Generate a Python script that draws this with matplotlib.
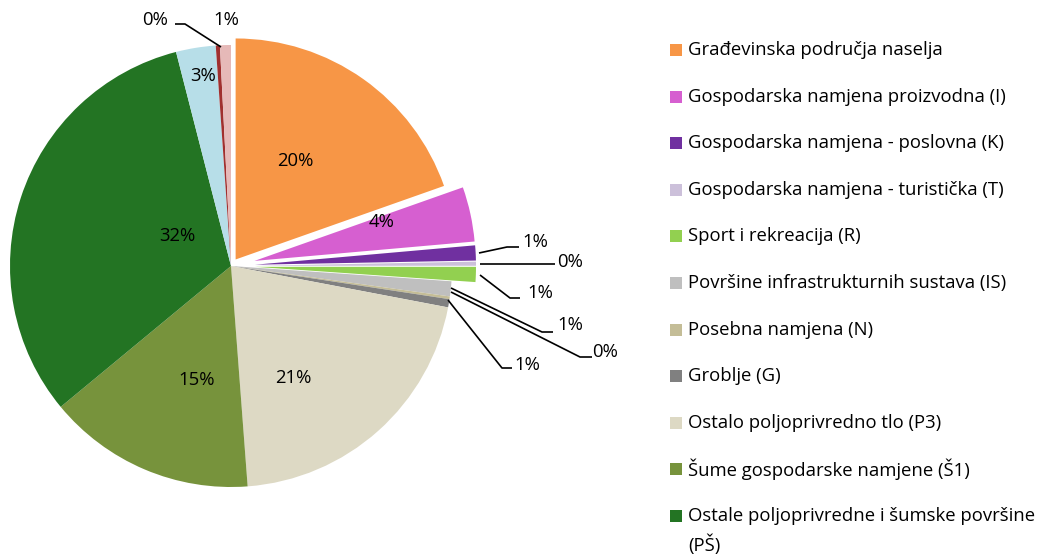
import matplotlib.pyplot as plt
from matplotlib.patches import Rectangle

plt.rcParams["font.family"] = ["Open Sans", "DejaVu Sans"]

categories = [
    "Građevinska područja naselja",
    "Gospodarska namjena proizvodna (I)",
    "Gospodarska namjena - poslovna (K)",
    "Gospodarska namjena - turistička (T)",
    "Sport i rekreacija (R)",
    "Površine infrastrukturnih sustava (IS)",
    "Posebna namjena (N)",
    "Groblje (G)",
    "Ostalo poljoprivredno tlo (P3)",
    "Šume gospodarske namjene (Š1)",
    "Ostale poljoprivredne i šumske površine\n(PŠ)",
    "Vode",
    "Ostalo",
    "Ostalo 2",
]
shares = [19.6, 4.0, 1.1, 0.3, 1.1, 1.1, 0.2, 0.6, 20.8, 15.2, 32.0, 2.9, 0.3, 0.8]
colors = ["#F79646", "#D65FD0", "#7030A0", "#CCC0DA", "#92D050", "#BFBFBF",
          "#C4BD97", "#808080", "#DDD9C4", "#77933C", "#237423", "#B7DEE8",
          "#A0302F", "#E6B9B8"]
explode = [8, 24, 24, 24, 24, 0, 0, 0, 0, 0, 0, 0, 0, 0]  # in pixels
n_legend = 11
fs = 13.3

# label placement (pixel space, y up): text position, and leader line points
label_pos = [(295, 397), (382, 336), (535, 316), (570, 296), (540, 265),
             (570, 233), (605, 206), (527, 193), (293, 180), (197, 178),
             (177, 322), (203, 482), (155, 538), (226, 538)]
leaders = {
    2: [(479, 305), (507, 311), (519, 311)],
    3: [(480, 294), (555, 294)],
    4: [(480, 283), (510, 260), (520, 260)],
    5: [(451, 270), (542, 226), (553, 226)],
    6: [(451, 266), (580, 201), (592, 201)],
    7: [(448, 258), (502, 190), (512, 190)],
    12: [(221, 511), (185, 534), (175, 534)],
}

W, H = 1041, 558
fig = plt.figure(figsize=(W / 100, H / 100), dpi=100)
ax = fig.add_axes([0, 0, 1, 1])

total = sum(shares)
ax.pie(shares, colors=colors, explode=explode, startangle=90, counterclock=False,
       center=(231, 292), radius=221, wedgeprops=dict(linewidth=0), frame=True)
ax.set_xlim(0, W)
ax.set_ylim(0, H)
ax.set_aspect("equal")
ax.axis("off")

for i, v in enumerate(shares):
    pct = f"{round(v / total * 100):.0f}%"
    x, y = label_pos[i]
    ax.text(x, y, pct, fontsize=fs, ha="center", va="center")
    if i in leaders:
        xs = [p[0] for p in leaders[i]]
        ys = [p[1] for p in leaders[i]]
        ax.plot(xs, ys, color="black", lw=1.2, solid_capstyle="butt")

# legend
row_y = [508, 461, 415, 368, 322, 275, 228, 182, 135, 89, 42]
for i in range(n_legend):
    y = row_y[i]
    ax.add_patch(Rectangle((670, y - 6), 12, 12, color=colors[i], lw=0))
    txt = categories[i]
    if "\n" in txt:
        first, second = txt.split("\n")
        ax.text(688, y, first, fontsize=fs, va="center", ha="left")
        ax.text(688, y - 29, second, fontsize=fs, va="center", ha="left")
    else:
        ax.text(688, y, txt, fontsize=fs, va="center", ha="left")

fig.savefig("out.png", dpi=100)
